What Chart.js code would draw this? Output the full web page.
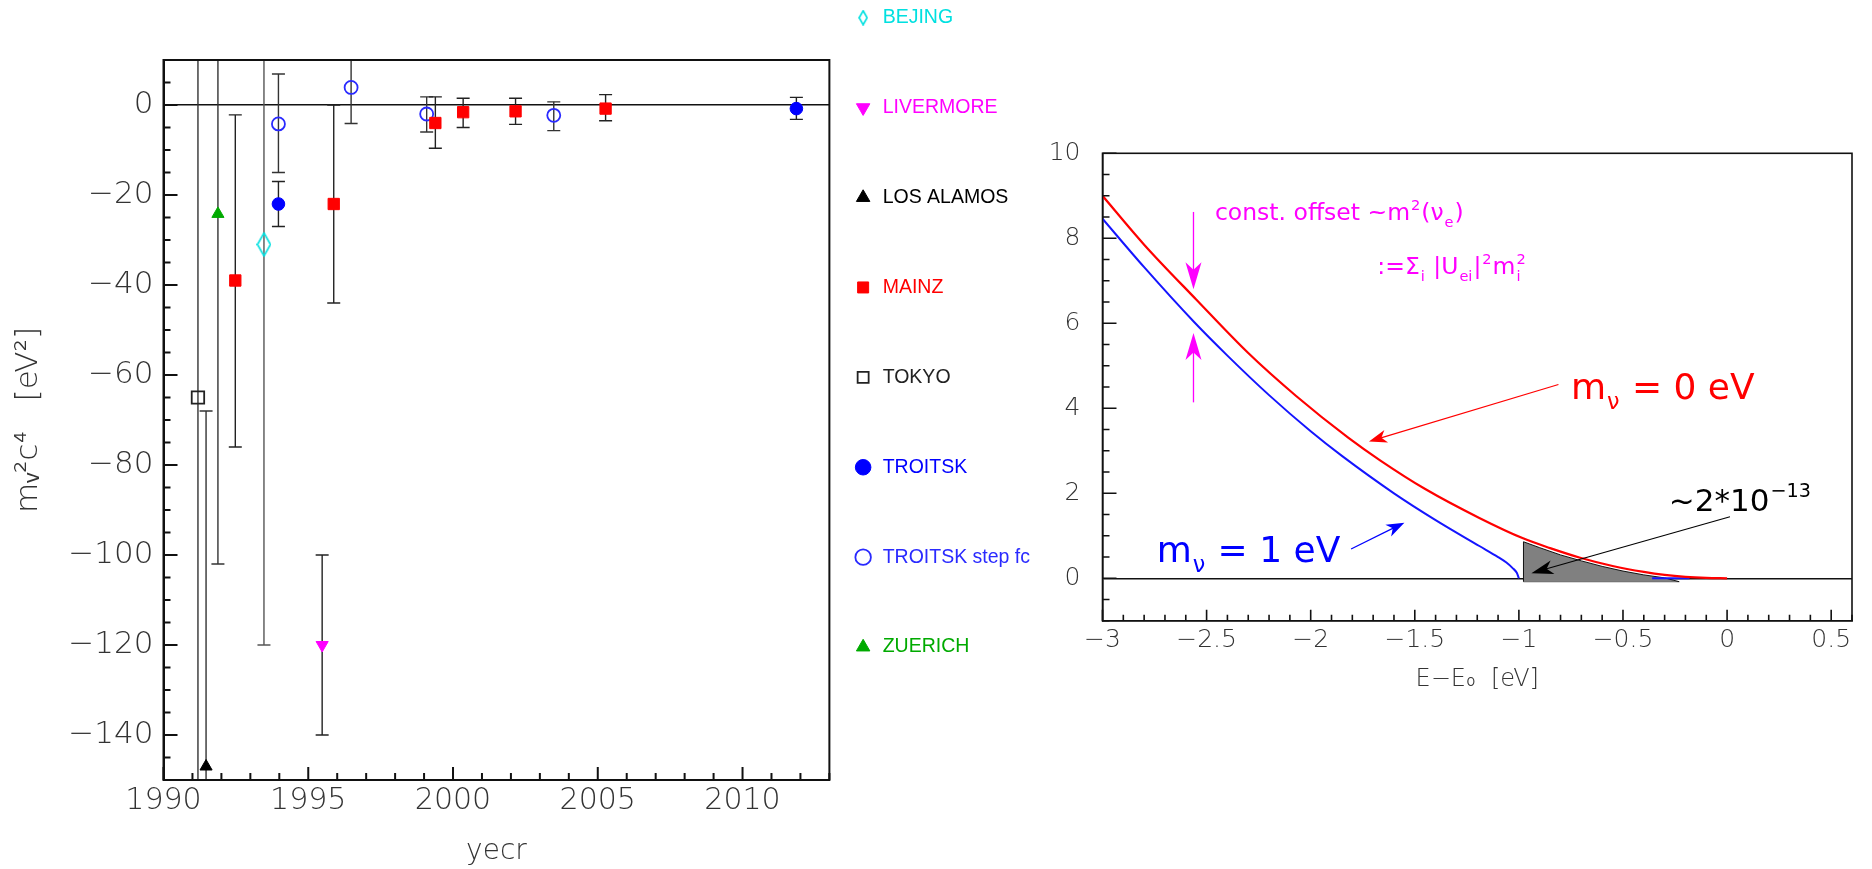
<!DOCTYPE html>
<html>
<head>
<meta charset="utf-8">
<script src="https://cdn.jsdelivr.net/npm/chart.js@4"></script>
<style>
html,body{margin:0;padding:0;background:#fff;overflow:hidden;width:1872px;height:869px;position:relative}
#left{position:absolute;left:0;top:-16px}
#right{position:absolute;left:1036px;top:0}
</style>
</head>
<body>
<canvas id="left" width="1040" height="885"></canvas>
<canvas id="right" width="836" height="869"></canvas>
<script>
// ---------------- data: left panel (m_nu^2 c^4 measurements) ----------------
const bejingYear = [1993.47], bejingVal = [-31], bejingLo = [-120], bejingHi = [58];
const livermoreYear = [1995.48], livermoreVal = [-120], livermoreLo = [-140], livermoreHi = [-100];
const losAlamosYear = [1991.47], losAlamosVal = [-147], losAlamosLo = [-226], losAlamosHi = [-68];
const mainzYear = [1992.48, 1995.88, 1999.39, 2000.35, 2002.16, 2005.27];
const mainzVal  = [-39, -22, -4.0, -1.6, -1.4, -0.8];
const mainzLo   = [-76, -44, -9.6, -5.0, -4.3, -3.5];
const mainzHi   = [-2.2, 0, 1.8, 1.5, 1.5, 2.3];
const tokyoYear = [1991.19], tokyoVal = [-65], tokyoLo = [-172], tokyoHi = [42];
const troitskYear = [1993.97, 2011.86], troitskVal = [-22, -0.8], troitskLo = [-27, -3.2], troitskHi = [-17, 1.7];
const stepYear = [1993.97, 1996.48, 1999.09, 2003.48];
const stepVal  = [-4.2, 3.9, -2.0, -2.3];
const stepLo   = [-15, -4.1, -6.0, -5.7];
const stepHi   = [6.9, 11.9, 1.8, 0.7];
const zuerichYear = [1991.88], zuerichVal = [-24.2], zuerichLo = [-102], zuerichHi = [54];

const yearTicks = [1990, 1995, 2000, 2005, 2010];
const massTicks = [-140, -120, -100, -80, -60, -40, -20, 0];

// ---------------- data: right panel (spectrum near endpoint) ----------------
const energy0 = [-3.0, -2.8, -2.55, -2.3, -2.07, -1.82, -1.665, -1.45, -1.19, -0.98, -0.85, -0.71, -0.55, -0.4, -0.3, -0.2, -0.1, 0.0];
const rate0   = [9.0, 7.85, 6.56, 5.30, 4.29, 3.31, 2.77, 2.10, 1.42, 0.94, 0.71, 0.49, 0.29, 0.15, 0.08, 0.035, 0.01, 0.0];
const energy1 = [-3.0, -2.8, -2.56, -2.4, -2.2, -2.0, -1.85, -1.6, -1.4, -1.19, -1.1, -1.06, -1.03, -1.01, -1.0, -0.7, -0.36, -0.18];
const rate1   = [8.46, 7.32, 6.03, 5.24, 4.31, 3.46, 2.88, 2.0, 1.37, 0.76, 0.50, 0.37, 0.24, 0.13, 0.0, null, 0.0, 0.0];
const grayE = [-0.978, -0.978, -0.9, -0.8, -0.7, -0.6, -0.5, -0.4, -0.3, -0.23];
const grayR = [-0.08, 0.86, 0.72, 0.55, 0.41, 0.28, 0.17, 0.08, 0.01, -0.08];
const grayBase = -0.08;

const energyTicks = [-3, -2.5, -2, -1.5, -1, -0.5, 0, 0.5];
const rateTicks = [0, 2, 4, 6, 8, 10];

// ---------------- styles ----------------
const AX = "'DejaVu Sans', 'Liberation Sans', sans-serif";
const SANS = "'Liberation Sans', Arial, sans-serif";
const fmt = v => (v < 0 ? '\u2212' + String(Math.abs(v)) : String(v));

function diamondImage(w, h, color) {
  const c = document.createElement('canvas');
  c.width = w; c.height = h;
  const g = c.getContext('2d');
  g.strokeStyle = color; g.lineWidth = 1.6;
  g.beginPath();
  g.moveTo(w / 2, 1); g.lineTo(w - 1, h / 2); g.lineTo(w / 2, h - 1); g.lineTo(1, h / 2);
  g.closePath(); g.stroke();
  return c;
}

const series = [
  {label: 'BEJING', year: bejingYear, val: bejingVal, lo: bejingLo, hi: bejingHi, style: diamondImage(15, 25, '#00e0e0'), legendStyle: diamondImage(10, 16, '#00e0e0'), r: 8, color: '#00e0e0', filled: false, err: '#555'},
  {label: 'LIVERMORE', year: livermoreYear, val: livermoreVal, lo: livermoreLo, hi: livermoreHi, style: 'triangle', rot: 180, r: 7, color: '#ff00ff', filled: true, err: '#222'},
  {label: 'LOS ALAMOS', year: losAlamosYear, val: losAlamosVal, lo: losAlamosLo, hi: losAlamosHi, style: 'triangle', r: 7, color: '#000000', filled: true, err: '#333'},
  {label: 'MAINZ', year: mainzYear, val: mainzVal, lo: mainzLo, hi: mainzHi, style: 'rect', r: 8, color: '#ff0000', filled: true, err: '#222'},
  {label: 'TOKYO', year: tokyoYear, val: tokyoVal, lo: tokyoLo, hi: tokyoHi, style: 'rect', r: 8.8, color: '#222222', filled: false, err: '#333'},
  {label: 'TROITSK', year: troitskYear, val: troitskVal, lo: troitskLo, hi: troitskHi, style: 'circle', r: 6.3, color: '#0000ff', filled: true, err: '#222'},
  {label: 'TROITSK step fc', year: stepYear, val: stepVal, lo: stepLo, hi: stepHi, style: 'circle', r: 6.5, color: '#2a2aff', filled: false, err: '#333'},
  {label: 'ZUERICH', year: zuerichYear, val: zuerichVal, lo: zuerichLo, hi: zuerichHi, style: 'triangle', r: 7, color: '#00aa00', filled: true, err: '#333'}
];

// legend geometry: chart area must end at x = 832 on the left canvas
const LEG_SIZE = 19.5, LEG_PAD = 24, LEG_STEP = 89.9;
const LEG_FONT = LEG_SIZE + "px 'Liberation Sans', Arial, sans-serif";
const measureCtx = document.createElement('canvas').getContext('2d');
measureCtx.font = LEG_FONT;
const legendTextW = Math.max(...series.map(s => measureCtx.measureText(s.label).width));
const legendW = LEG_PAD + LEG_SIZE + LEG_SIZE / 2 + legendTextW + 10; // Chart.js adds 10px to vertical legends
const LEFT_W = 1040, PLOT_RIGHT = 832;
const leftPadRight = Math.max(0, LEFT_W - PLOT_RIGHT - legendW);

// ---------------- plugin: frame + inner ticks ----------------
const frameTicks = {
  id: 'frameTicks',
  afterDraw(chart, args, o) {
    if (!o || !o.on) return;
    const {ctx, chartArea: a} = chart;
    const x = chart.scales.x, y = chart.scales.y;
    ctx.save();
    ctx.strokeStyle = '#111';
    ctx.lineWidth = o.lw;
    ctx.strokeRect(a.left, a.top, a.right - a.left, a.bottom - a.top);
    ctx.beginPath();
    const isMajor = (v, arr, step) => arr.some(m => Math.abs(m - v) < step / 10);
    for (let i = Math.ceil(x.min / o.xStep - 1e-6); i * o.xStep <= x.max + 1e-6; i++) {
      const v = i * o.xStep;
      const px = x.getPixelForValue(v);
      const L = isMajor(v, o.xMajor, o.xStep) ? o.xLen[0] : o.xLen[1];
      ctx.moveTo(px, a.bottom); ctx.lineTo(px, a.bottom - L);
    }
    for (let i = Math.ceil(y.min / o.yStep - 1e-6); i * o.yStep <= y.max + 1e-6; i++) {
      const v = i * o.yStep;
      const py = y.getPixelForValue(v);
      const L = isMajor(v, o.yMajor, o.yStep) ? o.yLen[0] : o.yLen[1];
      ctx.moveTo(a.left, py); ctx.lineTo(a.left + L, py);
    }
    ctx.stroke();
    ctx.restore();
  }
};

// ---------------- left chart ----------------
const leftDatasets = [];
series.forEach(s => {
  leftDatasets.push({
    label: s.label,
    data: s.year.map((yr, i) => ({x: yr, y: s.val[i]})),
    pointStyle: s.style,
    pointRotation: s.rot || 0,
    pointRadius: s.r,
    pointHoverRadius: s.r,
    pointBackgroundColor: s.filled ? s.color : 'rgba(255,255,255,0)',
    backgroundColor: s.filled ? s.color : 'rgba(255,255,255,0)',
    pointBorderColor: s.color,
    borderColor: s.color,
    pointBorderWidth: s.filled ? 1 : 1.8,
    showLine: false,
    order: 0,
    labelColor: s.color,
    legendStyle: s.legendStyle
  });
});
series.forEach(s => {
  leftDatasets.push({
    label: s.label + ' err',
    isErr: true,
    data: s.year.flatMap((yr, i) => [{x: yr, y: s.lo[i]}, {x: yr, y: s.hi[i]}, {x: yr, y: null}]),
    showLine: true,
    spanGaps: false,
    borderColor: s.err,
    borderWidth: 1.4,
    pointStyle: 'line',
    pointRadius: 6.5,
    pointHoverRadius: 6.5,
    pointBorderColor: s.err,
    pointBackgroundColor: s.err,
    pointBorderWidth: 1.4,
    order: 1
  });
});

new Chart(document.getElementById('left'), {
  type: 'scatter',
  data: {datasets: leftDatasets},
  options: {
    responsive: false,
    animation: false,
    devicePixelRatio: 1,
    events: [],
    layout: {padding: {left: 0, right: leftPadRight, top: 0, bottom: 0}},
    scales: {
      x: {
        type: 'linear', min: 1990, max: 2013,
        afterBuildTicks: s => { s.ticks = yearTicks.map(v => ({value: v})); },
        afterFit: s => { s.height = 89; },
        grid: {display: false, drawTicks: false},
        border: {display: true, color: '#111', width: 2},
        ticks: {autoSkip: false, maxRotation: 0, padding: 3, color: '#333', font: {family: AX, size: 30, weight: '200'}, callback: v => String(v)},
        title: {display: true, text: 'yecr', color: '#333', padding: {top: 0, bottom: 0}, font: {family: AX, size: 28, weight: '200'}}
      },
      y: {
        type: 'linear', min: -150, max: 10,
        afterBuildTicks: s => { s.ticks = massTicks.map(v => ({value: v})); },
        afterFit: s => { s.width = 163.5; },
        grid: {display: true, drawTicks: false, lineWidth: 1.5, color: c => (c.tick && c.tick.value === 0 ? '#111' : 'rgba(0,0,0,0)')},
        border: {display: true, color: '#111', width: 2},
        ticks: {padding: 10, color: '#333', font: {family: AX, size: 31, weight: '200'}, callback: v => fmt(v)},
        title: {display: true, text: 'm\u1D65\u00B2c\u2074   [eV\u00B2]', color: '#333', padding: {top: 10, bottom: 0}, font: {family: AX, size: 31, weight: '200'}}
      }
    },
    plugins: {
      tooltip: {enabled: false},
      title: {display: true, text: '', padding: {top: 66, bottom: 0}, font: {size: 10, lineHeight: 1}},
      legend: {
        display: true,
        position: 'right',
        align: 'start',
        maxWidth: 600,
        labels: {
          usePointStyle: true,
          boxHeight: 11,
          padding: LEG_PAD,
          font: {family: SANS, size: LEG_SIZE, lineHeight: (LEG_STEP - LEG_PAD) / LEG_SIZE},
          generateLabels: chart => Chart.defaults.plugins.legend.labels.generateLabels(chart)
            .filter(it => !chart.data.datasets[it.datasetIndex].isErr)
            .map(it => {
              const ds = chart.data.datasets[it.datasetIndex];
              return Object.assign({}, it, {text: [it.text], fontColor: ds.labelColor, pointStyle: ds.legendStyle || it.pointStyle});
            })
        }
      },
      frameTicks: {on: true, lw: 2, xStep: 1, xMajor: yearTicks, xLen: [13, 7], yStep: 5, yMajor: massTicks, yLen: [14, 7]}
    }
  },
  plugins: [frameTicks]
});

// ---------------- right chart ----------------
const rightNotes = {
  texts: [
    {x: -2.46, y: 8.62, color: '#ff00ff', size: 23.5, family: AX, segs: ['const. offset ~m', {sup: '2'}, '(\u03bd', {sub: 'e'}, ')']},
    {x: -1.68, y: 7.35, color: '#ff00ff', size: 23.5, family: AX, segs: [':=\u03a3', {sub: 'i'}, ' |U', {sub: 'ei'}, '|', {sup: '2'}, 'm', {sub: 'i', sup: '2'}]},
    {x: -0.75, y: 4.52, color: '#ff0000', size: 36, family: AX, segs: ['m', {sub: '\u03bd'}, ' = 0 eV']},
    {x: -2.74, y: 0.69, color: '#0000ff', size: 36, family: AX, segs: ['m', {sub: '\u03bd'}, ' = 1 eV']},
    {x: -0.28, y: 1.84, color: '#000000', size: 31, family: AX, segs: ['~2*10', {sup: '\u221213'}]}
  ],
  arrows: [
    {x1: -2.563, y1: 8.62, x2: -2.563, y2: 6.80, color: '#ff00ff', lw: 1.3, len: 27, w: 16},
    {x1: -2.563, y1: 4.14, x2: -2.563, y2: 5.77, color: '#ff00ff', lw: 1.3, len: 27, w: 16},
    {x1: -0.81, y1: 4.56, x2: -1.72, y2: 3.22, color: '#ff0000', lw: 1.2, len: 18, w: 13},
    {x1: -1.806, y1: 0.69, x2: -1.55, y2: 1.31, color: '#0000ff', lw: 1.2, len: 18, w: 13},
    {x1: 0.014, y1: 1.45, x2: -0.94, y2: 0.12, color: '#000000', lw: 1.1, len: 22, w: 14}
  ]
};

function drawRich(ctx, x, yc, t) {
  const size = t.size;
  ctx.fillStyle = t.color;
  ctx.textBaseline = 'alphabetic';
  ctx.textAlign = 'left';
  const base = yc + size * 0.36;
  let cx = x;
  for (const s of t.segs) {
    if (typeof s === 'string') {
      ctx.font = size + 'px ' + t.family;
      ctx.fillText(s, cx, base);
      cx += ctx.measureText(s).width;
    } else {
      const sm = size * 0.62;
      ctx.font = sm + 'px ' + t.family;
      let w = 0;
      if (s.sub) { ctx.fillText(s.sub, cx + 1, base + size * 0.28); w = Math.max(w, ctx.measureText(s.sub).width); }
      if (s.sup) { ctx.fillText(s.sup, cx + 1, base - size * 0.45); w = Math.max(w, ctx.measureText(s.sup).width); }
      cx += w + 2;
    }
  }
}

function drawArrow(ctx, x1, y1, x2, y2, a) {
  const ang = Math.atan2(y2 - y1, x2 - x1);
  ctx.strokeStyle = a.color; ctx.fillStyle = a.color; ctx.lineWidth = a.lw;
  ctx.beginPath();
  ctx.moveTo(x1, y1);
  ctx.lineTo(x2 - Math.cos(ang) * a.len * 0.6, y2 - Math.sin(ang) * a.len * 0.6);
  ctx.stroke();
  ctx.save();
  ctx.translate(x2, y2); ctx.rotate(ang);
  ctx.beginPath();
  ctx.moveTo(0, 0); ctx.lineTo(-a.len, -a.w / 2); ctx.lineTo(-a.len * 0.72, 0); ctx.lineTo(-a.len, a.w / 2);
  ctx.closePath(); ctx.fill();
  ctx.restore();
}

const notesPlugin = {
  id: 'notes',
  afterDatasetsDraw(chart) {
    const {ctx} = chart;
    const x = chart.scales.x, y = chart.scales.y;
    ctx.save();
    rightNotes.arrows.forEach(a => drawArrow(ctx, x.getPixelForValue(a.x1), y.getPixelForValue(a.y1), x.getPixelForValue(a.x2), y.getPixelForValue(a.y2), a));
    rightNotes.texts.forEach(t => drawRich(ctx, x.getPixelForValue(t.x), y.getPixelForValue(t.y), t));
    ctx.restore();
  }
};

new Chart(document.getElementById('right'), {
  type: 'scatter',
  data: {
    datasets: [
      {label: 'red', data: energy0.map((e, i) => ({x: e, y: rate0[i]})), showLine: true, borderColor: '#ff0000', borderWidth: 2.2, pointRadius: 0, cubicInterpolationMode: 'monotone', order: 1},
      {label: 'blue', data: energy1.map((e, i) => ({x: e, y: rate1[i]})), showLine: true, spanGaps: false, borderColor: '#1515ff', borderWidth: 2, pointRadius: 0, cubicInterpolationMode: 'monotone', order: 2},
      {label: 'gray', data: grayE.map((e, i) => ({x: e, y: grayR[i]})), showLine: true, borderColor: '#111', borderWidth: 1, backgroundColor: '#808080', fill: {value: grayBase}, pointRadius: 0, tension: 0, order: 3},
      {label: 'grayBase', data: [{x: grayE[0], y: grayBase}, {x: grayE[grayE.length - 1], y: grayBase}], showLine: true, borderColor: '#333', borderWidth: 1, pointRadius: 0, order: 3}
    ]
  },
  options: {
    responsive: false,
    animation: false,
    devicePixelRatio: 1,
    events: [],
    layout: {padding: {left: 0, right: 20, top: 153.3, bottom: 175}},
    scales: {
      x: {
        type: 'linear', min: -3, max: 0.6,
        afterBuildTicks: s => { s.ticks = energyTicks.map(v => ({value: v})); },
        afterFit: s => { s.height = 73.2; },
        grid: {display: false, drawTicks: false},
        border: {display: true, color: '#111', width: 1.6},
        ticks: {autoSkip: false, maxRotation: 0, padding: 5, color: '#333', font: {family: AX, size: 25, weight: '200'}, callback: v => fmt(v)},
        title: {display: true, text: 'E\u2212E\u2080  [eV]', color: '#333', padding: {top: 0, bottom: 0}, font: {family: AX, size: 24, weight: '200'}}
      },
      y: {
        type: 'linear', min: -1, max: 10,
        afterBuildTicks: s => { s.ticks = rateTicks.map(v => ({value: v})); },
        afterFit: s => { s.width = 66.5; },
        grid: {display: true, drawTicks: false, lineWidth: 1.5, color: c => (c.tick && c.tick.value === 0 ? '#111' : 'rgba(0,0,0,0)')},
        border: {display: true, color: '#111', width: 1.6},
        ticks: {padding: 22, color: '#333', font: {family: AX, size: 25, weight: '200'}, callback: v => fmt(v)}
      }
    },
    plugins: {
      tooltip: {enabled: false},
      legend: {display: false},
      frameTicks: {on: true, lw: 1.6, xStep: 0.1, xMajor: energyTicks, xLen: [11, 6], yStep: 0.5, yMajor: rateTicks, yLen: [14, 7]}
    }
  },
  plugins: [frameTicks, notesPlugin]
});
</script>
</body>
</html>
